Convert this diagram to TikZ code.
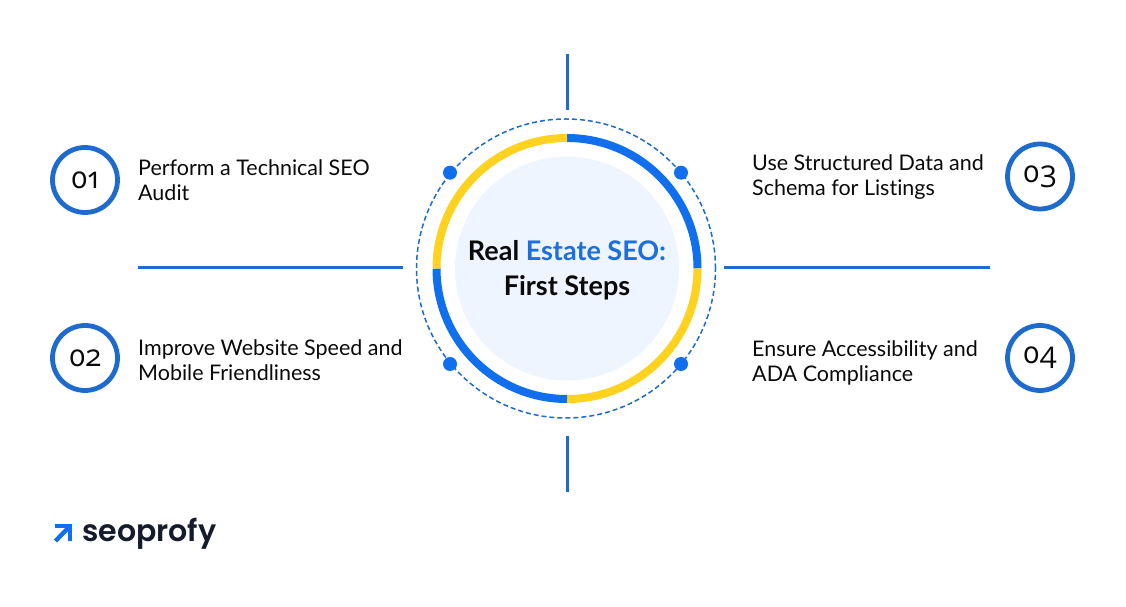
\documentclass[tikz,border=0pt]{standalone}
\usepackage{fontspec}
\usetikzlibrary{calc}
\setmainfont[Ligatures=NoCommon]{Lato}
\newfontfamily\numfont[Numbers=OldStyle]{Open Sans}
\newfontfamily\logofont{Poppins}[BoldFont={Poppins SemiBold}]
\definecolor{ringblue}{HTML}{0F6FEF}
\definecolor{ringyellow}{HTML}{FFD220}
\definecolor{lineblue}{HTML}{1E6BD0}
\definecolor{titleblue}{HTML}{1C6FDE}
\definecolor{pale}{HTML}{EEF5FE}
\definecolor{logodark}{HTML}{141B2B}
\definecolor{ink}{HTML}{0A0A0A}
\tikzset{
  x=1pt,y=1pt,
  rule/.style={draw=lineblue,line width=3pt},
  badge/.style={circle,draw=lineblue,line width=4.8pt,fill=white,minimum size=65pt,inner sep=0pt,
    font=\numfont\fontsize{30}{30}\selectfont,text=ink},
  stepnote/.style={anchor=west,align=left,inner sep=0pt,text=ink,font=\fontsize{21.5}{25}\selectfont},
  knob/.style={circle,fill=ringblue,minimum size=14pt,inner sep=0pt},
  arcblue/.style={draw=ringblue,line width=8pt},
  arcyellow/.style={draw=ringyellow,line width=8pt},
}
\begin{document}
\begin{tikzpicture}
\useasboundingbox[fill=white] (0,0) rectangle (1126,607);
\coordinate (c) at (567,338.5);
% dashed orbit
\draw[lineblue,line width=1.5pt,dash pattern=on 5pt off 3pt] (566,338.5) circle[radius=149.5pt];
% centre disc
\node[circle,fill=pale,minimum size=224pt,inner sep=0pt] (disc) at (c) {};
% ring
\draw[arcblue] ($(c)+(90:130.5)$) arc[start angle=90,end angle=0,radius=130.5pt];
\draw[arcyellow] ($(c)+(0:130.5)$) arc[start angle=0,end angle=-90,radius=130.5pt];
\draw[arcblue] ($(c)+(-90:130.5)$) arc[start angle=-90,end angle=-180,radius=130.5pt];
\draw[arcyellow] ($(c)+(180:130.5)$) arc[start angle=180,end angle=90,radius=130.5pt];
% knobs
\node[knob] (k1) at (450,434.3) {};
\node[knob] (k2) at (681,434.3) {};
\node[knob] (k3) at (450,243) {};
\node[knob] (k4) at (681,243) {};
% title
\node[align=center,inner sep=0pt,text=ink,font=\bfseries\fontsize{27}{35}\selectfont] (title) at (567,337)
  {Real \textcolor{titleblue}{Estate SEO:}\\First Steps};
% rules
\coordinate (ta) at (567,553); \coordinate (tb) at (567,497);
\coordinate (ba) at (567,171); \coordinate (bb) at (567,115);
\coordinate (la) at (138,339.5); \coordinate (lb) at (403,339.5);
\coordinate (ra) at (724,339.5); \coordinate (rb) at (990,339.5);
\draw[rule] (ta) -- (tb);
\draw[rule] (ba) -- (bb);
\draw[rule] (la) -- (lb);
\draw[rule] (ra) -- (rb);
% badges
\node[badge] (b1) at (85,427) {01};
\node[badge] (b2) at (85,249) {02};
\node[badge] (b3) at (1040,430.5) {03};
\node[badge] (b4) at (1040,249) {04};
% notes
\node[stepnote] (n1) at (138,427) {Perform a Technical SEO\\Audit};
\node[stepnote] (n2) at (138,247) {Improve Website Speed and\\Mobile Friendliness};
\node[stepnote] (n3) at (752,429.5) {Use Structured Data and\\Schema for Listings};
\node[stepnote] (n4) at (752,244.5) {Ensure Accessibility and\\ADA Compliance};
% logo
\coordinate (g1) at (55.5,66); \coordinate (g2) at (70,81);
\coordinate (g3) at (55,81); \coordinate (g4) at (70,65.5);
\draw[ringblue,line width=4.4pt] (g1) -- (g2);
\draw[ringblue,line width=4.4pt,miter limit=10] (g3) -- (g2) -- (g4);
\node[anchor=base west,inner sep=0pt,text=logodark,font=\logofont\bfseries\fontsize{30}{30}\selectfont] (logo) at (82,65.5) {seoprofy};
\end{tikzpicture}
\end{document}
